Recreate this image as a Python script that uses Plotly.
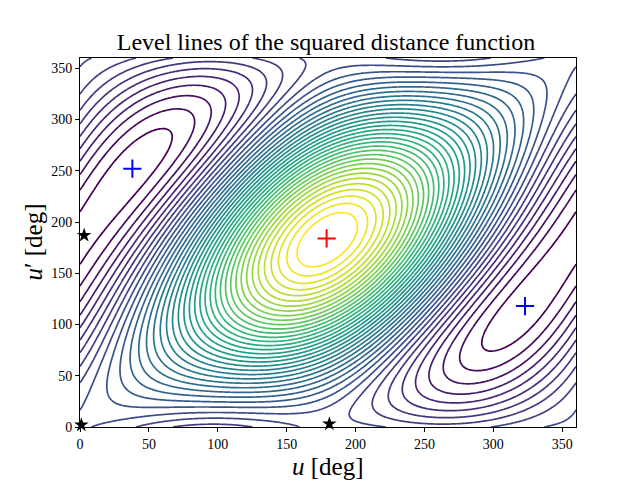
import numpy as np
import plotly.graph_objects as go

# Critical points (degrees)
max_u = [179]
max_v = [184]
min_u = [38, 323]
min_v = [252, 118]
sad_u = [3, 181, 1]
sad_v = [187, 3, 2]

tick_vals = [0, 50, 100, 150, 200, 250, 300, 350]
n_levels = 40

# Two Keplerian orbits (orbit 1: a=1, in the reference plane, perihelion on x axis)
a1 = 1.0
e1 = 0.4249
a2 = 0.5716
e2 = 0.1942
incl = 0.2535      # mutual inclination [rad]
Omega = -1.5772    # node [rad]
omega = 4.6593     # argument of pericentre [rad]


def rot(Om, I, om):
    cO, sO = np.cos(Om), np.sin(Om)
    cI, sI = np.cos(I), np.sin(I)
    co, so = np.cos(om), np.sin(om)
    Rz1 = np.array([[cO, -sO, 0], [sO, cO, 0], [0, 0, 1]])
    Rx = np.array([[1, 0, 0], [0, cI, -sI], [0, sI, cI]])
    Rz2 = np.array([[co, -so, 0], [so, co, 0], [0, 0, 1]])
    return Rz1 @ Rx @ Rz2


def squared_distance(u, v):
    b1 = a1 * np.sqrt(1 - e1 ** 2)
    b2 = a2 * np.sqrt(1 - e2 ** 2)
    R = rot(Omega, incl, omega)
    P2, Q2 = R[:, 0], R[:, 1]
    X1 = np.stack([a1 * (np.cos(u) - e1), b1 * np.sin(u), 0 * u], -1)
    X2 = (a2 * (np.cos(v) - e2))[..., None] * P2 + (b2 * np.sin(v))[..., None] * Q2
    D = X1 - X2
    return (D * D).sum(-1)


g = np.linspace(0, 360, 301)
U, V = np.meshgrid(np.radians(g), np.radians(g))
Z = squared_distance(U, V)
zmin, zmax = Z.min(), Z.max()
step = (zmax - zmin) / (n_levels + 1)
start = zmin + 0.7 * step
end = start + (n_levels - 1) * step

fig = go.Figure()
fig.add_trace(go.Contour(
    x=g, y=g, z=Z,
    contours=dict(coloring="lines", start=start, end=end, size=step),
    colorscale="Viridis", zauto=False, zmin=start, zmax=end,
    line=dict(width=1.7), showscale=False, hoverinfo="skip",
))
fig.add_trace(go.Scatter(x=max_u, y=max_v, mode="markers",
                         marker=dict(symbol="cross-thin", size=13, line=dict(color="red", width=2)),
                         showlegend=False))
fig.add_trace(go.Scatter(x=min_u, y=min_v, mode="markers",
                         marker=dict(symbol="cross-thin", size=13, line=dict(color="blue", width=2)),
                         showlegend=False))
fig.add_trace(go.Scatter(x=sad_u, y=sad_v, mode="markers",
                         marker=dict(symbol="star", size=11, color="black"),
                         showlegend=False, cliponaxis=False))

font = "Liberation Serif"
axis_common = dict(range=[0, 360], tickvals=tick_vals, ticks="outside", ticklen=4,
                   tickwidth=0.8, tickcolor="black", showgrid=False, zeroline=False,
                   showline=True, linecolor="black", linewidth=1, mirror=True, automargin=False,
                   tickfont=dict(family=font, size=14, color="black"))
fig.update_layout(
    width=640, height=480,
    margin=dict(l=80, r=64, t=58, b=53, autoexpand=False),
    paper_bgcolor="white", plot_bgcolor="white",
    title=dict(text="Level lines of the squared distance function", x=(111 + 541) / 2 / 640,
               xanchor="center", y=1 - 42 / 480, yanchor="middle",
               font=dict(family=font, size=24, color="black")),
    xaxis=axis_common,
    yaxis=axis_common,
    annotations=[
        dict(text="<i>u</i> [deg]", x=0.5, y=-(466 - 427) / 369, xref="paper", yref="paper",
             xanchor="center", yanchor="middle", showarrow=False,
             font=dict(family=font, size=25, color="black")),
        dict(text="<i>u</i>′ [deg]", x=(33 - 80) / 496, y=0.5, xref="paper", yref="paper",
             xanchor="center", yanchor="middle", showarrow=False, textangle=-90,
             font=dict(family=font, size=25, color="black")),
    ],
)
fig.write_html("out.html")
